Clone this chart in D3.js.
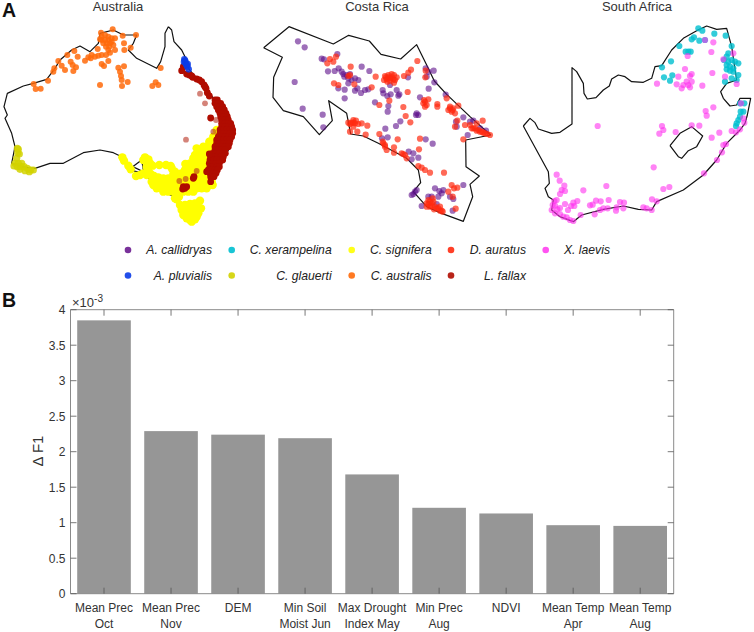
<!DOCTYPE html>
<html><head><meta charset="utf-8">
<script src="https://cdn.jsdelivr.net/npm/d3@7"></script>
<style>html,body{margin:0;padding:0;background:#fff}svg{display:block;font-family:"Liberation Sans",Arial,sans-serif}</style>
</head><body><svg id="c" width="754" height="632"></svg>
<script>
// Bar chart data
const factors=[["Mean Prec","Oct"],["Mean Prec","Nov"],["DEM",""],["Min Soil","Moist Jun"],["Max Drought","Index May"],["Min Prec","Aug"],["NDVI",""],["Mean Temp","Apr"],["Mean Temp","Aug"]];
const deltaF1=[3.85,2.29,2.24,2.19,1.68,1.21,1.13,0.965,0.955];
const yTicks=[0,0.5,1,1.5,2,2.5,3,3.5,4];
// Map outlines (map units)
const ausOutline=[[505,80],[515,90],[522,125],[545,150],[555,170],[565,205],[590,235],[620,265],[640,295],[670,325],[690,365],[700,400],[690,440],[660,500],[640,545],[600,565],[555,575],[525,590],[470,570],[450,540],[430,510],[425,480],[398,500],[432,516],[410,515],[390,510],[365,470],[340,458],[300,450],[250,458],[190,490],[150,490],[105,505],[60,500],[35,490],[45,440],[35,400],[15,355],[22,345],[12,320],[22,280],[70,258],[100,250],[140,238],[165,205],[180,180],[215,150],[240,138],[270,155],[295,130],[300,100],[340,90],[370,105],[410,105],[400,130],[385,150],[410,175],[440,190],[470,205],[482,185],[495,140],[495,100],[505,80]];
const tasOutline=[[548,622],[595,615],[600,640],[585,660],[565,667],[553,648],[548,622]];
const crOutline=[[41,143],[117,80],[250,132],[296,106],[358,123],[393,163],[452,177],[500,134],[530,195],[553,243],[590,283],[660,350],[722,405],[647,420],[648,500],[688,528],[660,553],[668,590],[640,664],[575,640],[530,620],[490,575],[512,548],[505,510],[470,475],[385,430],[340,408],[302,402],[290,340],[236,302],[247,362],[208,404],[160,350],[100,332],[69,292],[71,232],[97,172],[41,143]];
const saOutline=[[40,378],[60,355],[75,368],[85,387],[125,400],[150,397],[186,372],[186,203],[200,215],[220,250],[222,280],[232,297],[258,293],[280,270],[298,258],[305,237],[325,225],[345,230],[365,245],[400,247],[425,235],[435,200],[455,197],[485,150],[520,115],[560,92],[590,78],[620,88],[650,85],[665,140],[680,240],[650,250],[632,275],[640,295],[660,318],[680,315],[690,295],[722,295],[712,345],[705,370],[690,390],[650,430],[620,480],[580,525],[520,570],[440,605],[425,630],[385,628],[340,618],[280,628],[215,645],[190,665],[150,650],[125,630],[130,600],[115,590],[105,565],[118,550],[115,515],[40,378]];
const lesothoOutline=[[480,437],[510,400],[545,380],[578,408],[560,440],[535,452],[515,475],[505,470],[480,437]];
// Species records (map units)
const signifera=[[367,472],[372,482],[385,497],[392,508],[408,528],[420,525],[430,520],[435,472],[445,478],[430,480],[450,490],[458,497],[478,495],[498,495],[512,498],[440,500],[445,512],[440,525],[452,522],[462,528],[475,532],[515,505],[525,515],[535,525],[545,520],[555,510],[556,492],[590,445],[585,465],[600,460],[610,450],[620,440],[630,425],[640,410],[650,390],[460,535],[475,535],[490,535],[505,535],[520,535],[535,535],[550,535],[565,535],[580,535],[595,535],[610,535],[625,535],[455,545],[470,545],[485,545],[500,545],[515,545],[530,545],[545,545],[560,545],[575,545],[590,545],[605,545],[620,545],[635,545],[460,555],[475,555],[490,555],[505,555],[520,555],[535,555],[550,555],[565,555],[580,555],[595,555],[610,555],[625,555],[638,555],[470,565],[485,565],[500,565],[515,565],[530,565],[545,565],[560,565],[575,565],[590,565],[605,565],[620,565],[490,575],[505,575],[520,575],[535,575],[550,575],[565,575],[580,575],[530,598],[520,522],[540,522],[560,522],[575,522],[590,522],[605,522],[620,522],[560,505],[575,505],[590,505],[605,505],[620,505],[570,490],[585,490],[600,490],[615,490],[625,490],[580,475],[595,475],[610,475],[625,475],[635,475],[600,460],[615,460],[630,460],[640,460],[610,440],[622,440],[635,440],[645,440],[628,425],[640,425],[540,615],[555,615],[570,612],[585,610],[600,602],[545,630],[560,630],[575,630],[590,625],[603,625],[550,645],[565,645],[580,645],[595,640],[570,660],[585,658],[575,665],[560,622],[548,622],[578,620],[592,615],[553,638],[572,638],[588,635],[572,652],[560,655],[590,650],[525,595],[537,590]];
const fallax=[[545,212],[550,200],[568,225],[578,232],[590,237],[605,245],[612,255],[618,265],[622,278],[628,288],[645,300],[652,300],[645,310],[655,310],[662,310],[650,320],[660,320],[668,320],[655,330],[665,330],[673,330],[660,340],[670,340],[678,340],[662,350],[672,350],[682,350],[665,360],[675,360],[685,360],[665,370],[675,370],[685,370],[692,370],[665,380],[675,380],[685,380],[695,380],[660,390],[670,390],[680,390],[690,390],[698,390],[660,400],[670,400],[680,400],[690,400],[698,400],[655,410],[665,410],[675,410],[685,410],[695,410],[650,420],[660,420],[670,420],[680,420],[690,420],[650,430],[660,430],[670,430],[680,430],[688,430],[645,440],[655,440],[665,440],[675,440],[685,440],[645,450],[655,450],[665,450],[675,450],[638,460],[648,460],[658,460],[668,460],[676,460],[632,470],[642,470],[652,470],[662,470],[670,470],[630,480],[640,480],[650,480],[660,480],[668,480],[628,490],[638,490],[648,490],[658,490],[630,500],[640,500],[650,500],[658,500],[625,510],[635,510],[645,510],[652,510],[630,520],[640,520],[648,520],[632,530],[642,530],[632,545],[632,354],[580,535],[582,530],[555,565],[550,560],[560,560],[548,567],[628,462],[620,515],[575,228],[598,240],[615,260],[560,222]];
const fallaxFaint=[[600,281],[615,310],[648,360],[640,395],[558,419],[590,513],[557,537],[538,543]];
const pluvialis=[[553,178],[556,185],[558,192],[562,200],[566,208],[555,182],[560,195],[552,186],[563,192]];
const glauerti=[[55,448],[58,462],[53,458],[50,475],[45,490],[55,490],[65,490],[42,498],[52,500],[62,500],[72,500],[82,505],[92,510],[100,510],[60,508],[75,512],[88,515],[52,445]];
const australis=[[338,88],[408,105],[368,107],[303,98],[305,110],[315,105],[325,110],[335,115],[345,115],[305,120],[315,120],[325,120],[335,125],[310,130],[320,130],[330,130],[300,118],[318,140],[328,140],[340,135],[372,130],[392,143],[373,150],[345,150],[293,147],[325,150],[330,158],[318,165],[305,165],[295,167],[275,165],[265,172],[255,182],[272,175],[285,170],[223,153],[233,170],[202,165],[175,183],[185,197],[212,185],[218,195],[228,202],[195,210],[220,213],[163,205],[160,215],[305,192],[312,198],[325,183],[355,203],[372,199],[360,215],[363,228],[365,240],[383,246],[366,258],[300,255],[457,258],[467,247],[475,255],[482,204],[144,242],[101,252],[107,267],[122,266]];
const callidryas=[[144,124],[164,142],[134,246],[158,326],[218,344],[220,382],[262,162],[215,176],[222,178],[234,214],[254,213],[266,205],[275,215],[280,222],[290,225],[283,230],[295,235],[300,222],[305,240],[295,250],[315,235],[325,240],[265,265],[284,269],[284,295],[315,272],[322,265],[333,279],[345,270],[355,268],[335,200],[358,213],[375,307],[398,270],[400,280],[412,288],[422,283],[440,270],[448,283],[445,287],[420,255],[415,318],[413,335],[474,232],[527,205],[535,215],[551,212],[530,230],[553,247],[536,266],[587,284],[510,292],[500,340],[505,345],[498,345],[451,364],[438,378],[406,386],[396,415],[413,412],[527,418],[548,431],[476,455],[490,460],[505,473],[485,478],[640,352],[618,365],[620,380],[660,365],[670,362],[690,385],[708,392],[653,405],[640,555],[555,565],[568,573],[580,570],[575,580],[565,590],[545,590],[535,590],[495,575],[490,582],[485,585],[500,570],[515,618],[608,632],[560,612],[600,590],[610,597]];
const auratus=[[240,177],[232,190],[250,185],[258,170],[302,200],[295,228],[300,225],[252,250],[265,255],[313,253],[365,262],[377,230],[405,228],[415,225],[425,222],[432,225],[440,232],[410,238],[420,235],[430,238],[402,240],[412,245],[432,248],[462,228],[475,218],[483,209],[502,183],[527,212],[526,232],[473,276],[418,302],[388,315],[460,321],[467,348],[481,367],[522,300],[535,298],[520,310],[525,320],[562,312],[562,320],[590,295],[600,320],[610,325],[625,317],[595,330],[605,335],[615,340],[622,362],[615,380],[645,375],[660,375],[665,385],[675,385],[685,390],[695,395],[680,370],[698,362],[705,400],[720,405],[640,418],[310,360],[305,368],[315,370],[325,372],[295,368],[310,380],[335,370],[352,377],[300,395],[322,395],[347,404],[388,402],[398,425],[405,435],[410,450],[432,442],[443,418],[432,458],[455,460],[465,465],[470,475],[510,416],[507,448],[505,498],[515,503],[525,510],[540,518],[582,518],[605,555],[612,565],[622,563],[595,575],[608,590],[535,600],[545,610],[530,620],[540,620],[555,620],[550,605],[565,625],[575,632],[570,620],[617,626],[535,612],[545,618],[552,628],[560,625],[570,632],[578,635],[530,610],[548,595],[540,605],[415,232],[425,232],[420,242],[408,232],[435,240],[310,368],[318,362],[300,372],[670,385],[680,392],[690,395],[700,398],[712,402],[600,325],[608,330],[525,305],[530,315],[460,462],[400,430],[405,440]];
const xerampelina=[[565,85],[577,92],[613,101],[647,107],[552,112],[545,118],[568,122],[585,120],[508,138],[527,155],[535,155],[542,155],[483,184],[456,202],[487,226],[462,232],[480,242],[665,138],[655,160],[650,170],[642,180],[655,185],[665,180],[675,185],[685,190],[650,195],[660,200],[670,205],[650,208],[660,212],[670,215],[685,225],[665,235],[680,240],[645,245],[692,335],[700,335],[690,350],[685,360],[680,370],[678,378],[703,310],[690,310]];
const laevis=[[670,160],[610,127],[585,120],[604,156],[533,168],[640,178],[525,207],[607,219],[545,222],[540,228],[505,230],[645,230],[530,245],[545,245],[520,255],[535,255],[540,262],[515,265],[500,253],[441,251],[577,257],[680,252],[693,310],[587,333],[610,322],[590,347],[700,355],[703,368],[263,378],[456,378],[460,390],[448,401],[497,396],[545,376],[568,377],[628,398],[605,413],[665,393],[678,397],[690,388],[640,435],[648,432],[636,457],[621,480],[582,520],[431,502],[140,524],[149,542],[163,557],[155,570],[150,582],[165,573],[289,558],[220,571],[460,567],[478,561],[426,598],[440,604],[140,600],[133,603],[128,615],[135,617],[202,603],[190,608],[165,612],[183,618],[193,618],[174,630],[150,624],[142,628],[125,630],[135,640],[150,642],[160,650],[170,652],[180,660],[190,663],[212,645],[240,616],[258,602],[272,604],[296,600],[248,614],[330,606],[342,608],[270,630],[280,625],[293,625],[320,622],[318,632],[340,625],[254,643],[400,622],[410,625],[425,630]];
const legendNames=[["A. callidryas","A. pluvialis"],["C. xerampelina","C. glauerti"],["C. signifera","C. australis"],["D. auratus","L. fallax"],["X. laevis",""]];
const legendColors=[["#6a1b8f","#0a3be8"],["#00bfd0","#d2d200"],["#ffff00","#ff6a0a"],["#ff2a10","#b00c00"],["#ff40f0",""]];
const titles=["Australia","Costa Rica","South Africa"];

const svg=d3.select("#c");
const ink="#333";
function panel(ox,title,tx,outlines,layers){
  const sx=d3.scaleLinear().domain([0,750]).range([ox,ox+250]);
  const sy=d3.scaleLinear().domain([0,720]).range([0,240]);
  const g=svg.append("g");
  const line=d3.line().x(d=>sx(d[0])).y(d=>sy(d[1]));
  g.selectAll("path").data(outlines).join("path").attr("d",line).attr("fill","none").attr("stroke","#111").attr("stroke-width",1.2).attr("stroke-linejoin","round");
  layers.forEach(l=>{
    g.append("g").selectAll("circle").data(l.pts).join("circle")
      .attr("cx",d=>sx(d[0])).attr("cy",d=>sy(d[1])).attr("r",l.r||3.1).attr("fill",l.c).attr("fill-opacity",l.a);
  });
  svg.append("text").attr("x",tx).attr("y",11).attr("text-anchor","middle").attr("font-size",13).attr("fill",ink).text(title);
}
panel(0,titles[0],118,[ausOutline,tasOutline],[
 {pts:glauerti,c:"#d2d200",a:.85,r:3.6},{pts:signifera,c:"#ffff00",a:1,r:4.2},{pts:australis,c:"#ff6a0a",a:.85,r:3},
 {pts:fallaxFaint,c:"#b8301f",a:.6,r:2.9},{pts:fallax,c:"#b00c00",a:1,r:3.4},{pts:pluvialis,c:"#0a3be8",a:.85,r:3.3}]);
panel(250,titles[1],377,[crOutline],[{pts:callidryas,c:"#5e0f8a",a:.6},{pts:auratus,c:"#ff2a10",a:.7}]);
panel(510,titles[2],637,[saOutline,lesothoOutline],[{pts:xerampelina,c:"#00bfd0",a:.8},{pts:laevis,c:"#ff30ee",a:.6}]);

// Legend
const markerX=[128,231.7,351.7,451,545.7], textEnd=[212,331.7,431.7,526,610], rowY=[250,275.5];
legendNames.forEach((col,i)=>col.forEach((name,j)=>{
  if(!name)return;
  svg.append("circle").attr("cx",markerX[i]).attr("cy",rowY[j]).attr("r",3.3).attr("fill",legendColors[i][j]).attr("fill-opacity",.9);
  svg.append("text").attr("x",textEnd[i]).attr("y",rowY[j]+4).attr("text-anchor","end").attr("font-size",12.2).attr("font-style","italic").attr("fill","#222").text(name);
}));

// Panel letters
[["A",2,17],["B",2,307]].forEach(d=>svg.append("text").attr("x",d[1]).attr("y",d[2]).attr("font-size",19.5).attr("font-weight","bold").attr("fill","#111").text(d[0]));

// Bars
const left=70.5,right=673.7,yTop=309.7,bottom=593.7;
const x=d3.scaleBand().domain(d3.range(deltaF1.length)).range([left,right]).paddingInner(0.2).paddingOuter(0.1);
const y=d3.scaleLinear().domain([0,4]).range([bottom,yTop]);
svg.append("g").selectAll("rect").data(deltaF1).join("rect").attr("x",(d,i)=>x(i)).attr("width",x.bandwidth()).attr("y",d=>y(d)).attr("height",d=>bottom-y(d)).attr("fill","#969696");
svg.append("path").attr("d",`M${left},${bottom}V${yTop}H${right}V${bottom}H${left}`).attr("fill","none").attr("stroke","#8a8a8a").attr("stroke-width",1);
const ax=svg.append("g").attr("stroke","#555").attr("stroke-width",.8);
x.domain().forEach(i=>{const c=x(i)+x.bandwidth()/2;
  ax.append("line").attr("x1",c).attr("x2",c).attr("y1",bottom).attr("y2",bottom-6);
  ax.append("line").attr("x1",c).attr("x2",c).attr("y1",yTop).attr("y2",yTop+6);});
yTicks.forEach(t=>{
  ax.append("line").attr("x1",left).attr("x2",left+6).attr("y1",y(t)).attr("y2",y(t));
  ax.append("line").attr("x1",right).attr("x2",right-6).attr("y1",y(t)).attr("y2",y(t));
  svg.append("text").attr("x",65.5).attr("y",y(t)+4.5).attr("text-anchor","end").attr("font-size",12).attr("fill",ink).text(t);
});
factors.forEach((f,i)=>{const c=x(i)+x.bandwidth()/2;
  f.forEach((s,j)=>{ if(s) svg.append("text").attr("x",c).attr("y",611.5+j*16.5).attr("text-anchor","middle").attr("font-size",12).attr("fill",ink).text(s);});
});
const mult=svg.append("text").attr("x",72).attr("y",307).attr("font-size",13).attr("fill",ink);
mult.append("tspan").text("×10");
mult.append("tspan").attr("dy",-5).attr("font-size",10).text("-3");
svg.append("text").attr("transform","translate(43,451) rotate(-90)").attr("text-anchor","middle").attr("font-size",15).attr("fill",ink).text("Δ F1");
</script></body></html>
